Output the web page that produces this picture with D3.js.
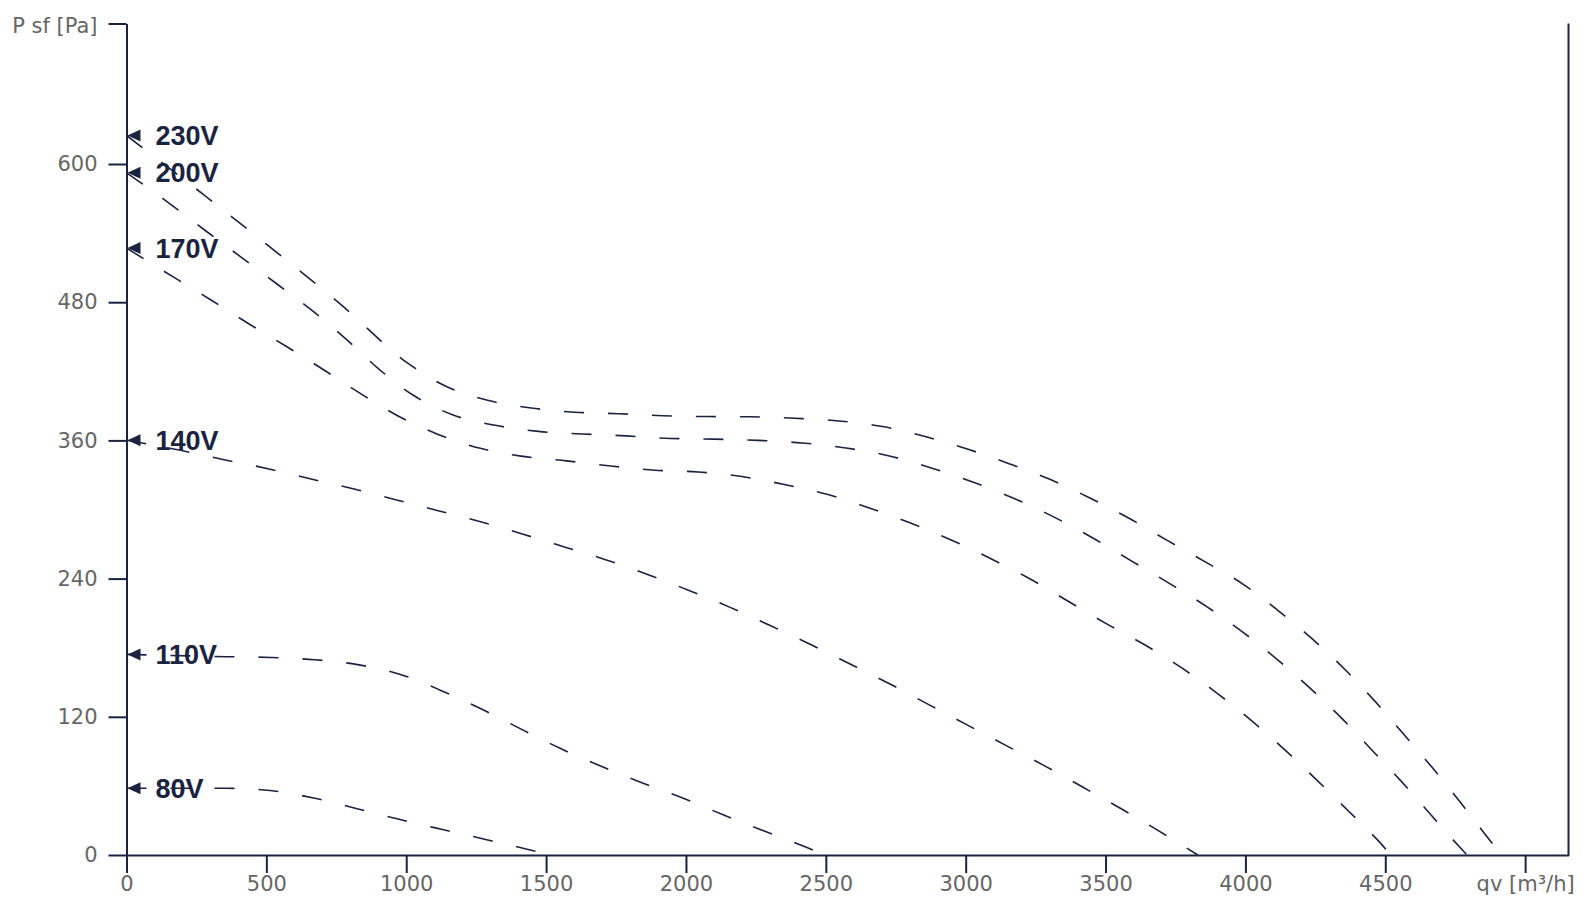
<!DOCTYPE html>
<html>
<head>
<meta charset="utf-8">
<script src="https://cdn.jsdelivr.net/npm/d3@7"></script>
<style>
  body { margin: 0; background: #fff; }
  .tick text { font-family: "DejaVu Sans", sans-serif; font-size: 21px; fill: #666; }
  .label { font-family: "Liberation Sans", Arial, sans-serif; font-size: 27px; font-weight: bold; fill: #1a2340; }
</style>
</head>
<body>
<div class="chart"></div>
<script>
// fan curves: [qv m3/h, P Pa]
var voltages = ['230V', '200V', '170V', '140V', '110V', '80V'];

var curve230 = [[0,624.8],[279,572.7],[528,525],[773,476.6],[1008,426.6],[1142,407],[1291,394.8],[1447,388.1],
  [1602,384.5],[1759,383.2],[1918,381.4],[2075,380.7],[2231,380.5],[2389,379.2],[2547,376.9],[2703,372],
  [2855,363.3],[3006,352.5],[3155,339.8],[3303,326],[3444,310],[3584,292.4],[3722,273],[3858,254.3],
  [3995,234.6],[4117,212.2],[4239,187.6],[4354,161.5],[4462,133.8],[4566,104.8],[4668,75.9],[4767,46.2],
  [4863,16.1],[4915,0]];
var curve200 = [[0,592.4],[159,564.8],[285,541.6],[412,518.7],[538,495.8],[663,472.9],[782,448.6],[900,422.4],
  [1024,399.4],[1165,382.3],[1318,373.1],[1473,367.8],[1629,365.6],[1787,363.9],[1945,361.7],[2101,361.1],
  [2257,360],[2415,357.8],[2572,353.4],[2727,346.5],[2877,336.1],[3028,323.6],[3173,309.6],[3316,293.4],
  [3453,275.5],[3589,255.8],[3725,236.3],[3859,216.1],[3987,194.2],[4110,170.6],[4228,145.5],[4342,119.3],
  [4451,91.4],[4559,63.5],[4663,34.9],[4765,7.1],[4792,0]];
var curve170 = [[0,527],[170,501.5],[302,481.9],[437,461.3],[572,441.5],[706,421.1],[837,400.6],[971,381.2],
  [1114,365.2],[1265,353.1],[1417,346.1],[1573,342.2],[1731,337.8],[1888,334.1],[2044,332.6],[2200,328.6],
  [2356,321.5],[2508,313],[2658,301.1],[2805,288],[2952,273.1],[3094,256.8],[3221,240.9],[3368,220.1],
  [3504,200.7],[3643,182.1],[3775,162],[3904,139.5],[4026,115.8],[4144,90.6],[4259,64.2],[4370,37.8],
  [4482,10.5],[4520,0]];
var curve140 = [[0,360.1],[193,351.4],[349,343.2],[506,335.4],[656,326.7],[810,318],[962,308.5],[1114,299],
  [1266,289.4],[1418,278.5],[1568,267.3],[1718,256],[1870,243],[2013,229.5],[2160,214.8],[2303,199],
  [2446,182.7],[2585,166],[2726,148.9],[2868,130.6],[3005,113],[3145,95],[3284,77.2],[3418,59],
  [3556,40.1],[3693,20.5],[3830,0]];
var curve110 = [[0,174.2],[358,172.2],[515,171.5],[672,169.6],[826,165.3],[982,156.6],[1126,142.7],[1269,126.7],
  [1411,109.3],[1552,92.4],[1695,77.2],[1840,63],[1988,49.5],[2135,34.7],[2280,20.8],[2428,6.9],[2495,0]];
var curve80 = [[0,57.9],[358,57.9],[513,56],[669,49.5],[821,40.4],[974,31],[1126,22.3],[1280,13.7],
  [1432,5],[1515,0]];

var curves = [curve230, curve200, curve170, curve140, curve110, curve80];

var xTicks = [0, 500, 1000, 1500, 2000, 2500, 3000, 3500, 4000, 4500, 5000];
var yTicks = [0, 120, 240, 360, 480, 600, 722];
var xUnit = 'qv [m³/h]';
var yUnit = 'P sf [Pa]';

var ink = '#1a2340';
var width = 1582, height = 906;
var plotLeft = 126.5, plotRight = 1568.5, plotTop = 23.5, plotBottom = 855;

var svg = d3.select('.chart')
  .append('svg')
    .attr('width', width)
    .attr('height', height);

var xScale = d3.scaleLinear()
  .domain([0, 5155])
  .range([plotLeft, plotRight]);

var yScale = d3.scaleLinear()
  .domain([0, 722])
  .range([plotBottom, plotTop]);

var xAxis = svg.append('g')
  .attr('transform', `translate(0, ${plotBottom})`)
  .call(d3.axisBottom(xScale)
    .tickValues(xTicks)
    .tickSize(18)
    .tickSizeOuter(0)
    .tickPadding(3)
    .tickFormat(d => d === 5000 ? xUnit : d));

var yAxis = svg.append('g')
  .attr('transform', `translate(${plotLeft}, 0)`)
  .call(d3.axisLeft(yScale)
    .tickValues(yTicks)
    .tickSize(18)
    .tickSizeOuter(0)
    .tickPadding(11)
    .tickFormat(d => d === 722 ? yUnit : d));

svg.selectAll('.domain, .tick line')
  .attr('stroke', ink)
  .attr('stroke-width', 2);

yAxis.selectAll('.tick text').filter(d => d === 722).attr('dy', '0.45em');

// right border
svg.append('line')
  .attr('x1', plotRight).attr('x2', plotRight)
  .attr('y1', plotTop).attr('y2', plotBottom + 1)
  .attr('stroke', ink)
  .attr('stroke-width', 2);

var line = d3.line()
  .x(d => xScale(d[0]))
  .y(d => yScale(d[1]))
  .curve(d3.curveMonotoneX);

svg.selectAll('path.curve')
  .data(curves)
  .enter()
  .append('path')
    .attr('class', 'curve')
    .attr('d', line)
    .attr('fill', 'none')
    .attr('stroke', ink)
    .attr('stroke-width', 1.6)
    .attr('stroke-dasharray', '20,24');

// shutoff markers + labels
svg.selectAll('path.marker')
  .data(curves)
  .enter()
  .append('path')
    .attr('class', 'marker')
    .attr('d', d => {
      var x = xScale(0) + 1, y = yScale(d[0][1]);
      return `M${x},${y}L${x + 13},${y - 6}L${x + 13},${y + 6}Z`;
    })
    .attr('fill', ink);

svg.selectAll('text.label')
  .data(curves)
  .enter()
  .append('text')
    .attr('class', 'label')
    .attr('x', xScale(0) + 29)
    .attr('y', d => yScale(d[0][1]))
    .attr('dy', '0.36em')
    .text((d, i) => voltages[i]);
</script>
</body>
</html>
